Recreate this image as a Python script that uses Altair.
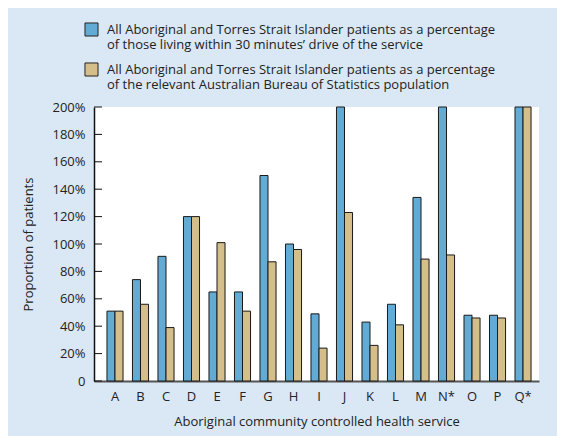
import altair as alt
import pandas as pd

categories = ["A", "B", "C", "D", "E", "F", "G", "H", "I", "J", "K", "L", "M", "N*", "O", "P", "Q*"]
drive_pct = [51, 74, 91, 120, 65, 65, 150, 100, 49, 200, 43, 56, 134, 200, 48, 48, 200]
abs_pct = [51, 56, 39, 120, 101, 51, 87, 96, 24, 123, 26, 41, 89, 92, 46, 46, 200]
series_names = [
    "All Aboriginal and Torres Strait Islander patients as a percentage|of those living within 30 minutes\u2019 drive of the service",
    "All Aboriginal and Torres Strait Islander patients as a percentage|of the relevant Australian Bureau of Statistics population",
]
colors = ["#62abd5", "#d4be8a"]
y_ticks = list(range(0, 201, 20))

rows = []
for i, c in enumerate(categories):
    rows.append({"service": c, "series": series_names[0], "value": drive_pct[i]})
    rows.append({"service": c, "series": series_names[1], "value": abs_pct[i]})
df = pd.DataFrame(rows)
ticks_df = pd.DataFrame({"value": y_ticks})

FONT = "Open Sans"
FS = 13

y_scale = alt.Scale(domain=[0, 200], nice=False)
y_axis = alt.Axis(title="Proportion of patients", values=y_ticks,
                  labelExpr="datum.value == 0 ? '0' : datum.value + '%'",
                  labelOverlap=False,
                  grid=False, ticks=False, domainColor="#111111", domainWidth=1.5,
                  labelPadding=9, titlePadding=16,
                  labelFontSize=FS, titleFontSize=FS, labelColor="#222222",
                  titleColor="#222222", titleFontWeight="normal",
                  labelFont=FONT, titleFont=FONT)

bars = alt.Chart(df).mark_bar(stroke="#1a1a1a", strokeWidth=1).encode(
    x=alt.X("service:N", sort=categories,
            scale=alt.Scale(paddingInner=0.37, paddingOuter=0.41, align=0.62),
            axis=alt.Axis(title="Aboriginal community controlled health service",
                          labelAngle=0, ticks=False, domainColor="#555555", domainWidth=2,
                          labelPadding=9, titlePadding=12, labelFontSize=FS,
                          titleFontSize=FS, labelColor="#222222", titleColor="#222222",
                          titleFontWeight="normal", labelFont=FONT, titleFont=FONT)),
    xOffset=alt.XOffset("series:N", sort=series_names, scale=alt.Scale(paddingInner=0, paddingOuter=0)),
    y=alt.Y("value:Q", scale=y_scale, axis=y_axis),
    color=alt.Color("series:N", sort=series_names,
                    scale=alt.Scale(domain=series_names, range=colors),
                    legend=alt.Legend(title=None, orient="none", legendX=-10, legendY=-85,
                                      symbolType="square", symbolSize=170,
                                      symbolStrokeColor="#222222", symbolStrokeWidth=1,
                                      labelExpr="split(datum.label, '|')",
                                      labelLimit=600, labelFontSize=FS, labelFont=FONT,
                                      labelColor="#222222", rowPadding=8,
                                      labelOffset=8, direction="vertical")),
)

tick_marks = alt.Chart(ticks_df).mark_rule(color="#111111", strokeWidth=1).encode(
    y=alt.Y("value:Q", scale=y_scale, axis=y_axis),
    x=alt.value(0),
    x2=alt.value(8),
)

chart = alt.layer(bars, tick_marks).properties(
    width=445, height=274,
    background="#dae8f5",
    padding={"left": 86, "top": 99, "right": 18, "bottom": 55},
    autosize=alt.AutoSizeParams(type="none"),
).configure_view(fill="white", stroke=None)

chart.save("out.html", embed_options={"renderer": "svg", "actions": False})
